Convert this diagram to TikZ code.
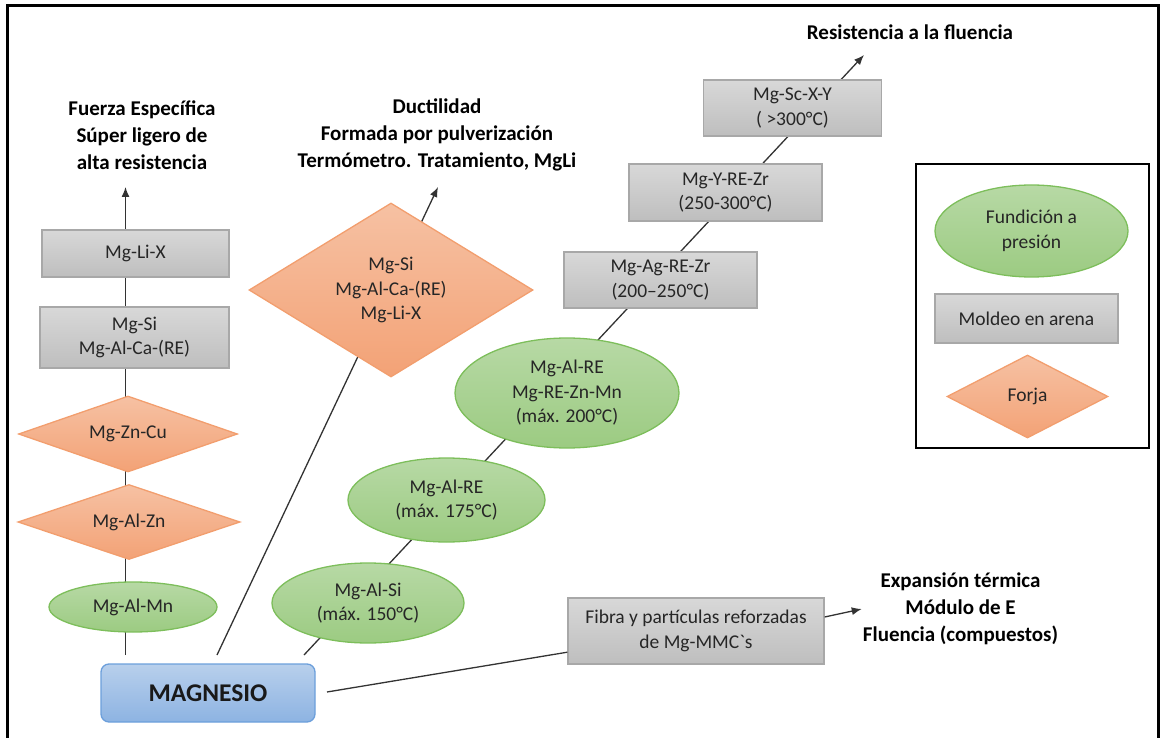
\documentclass[tikz,border=0pt]{standalone}
\usepackage{fontspec}
\setmainfont{Carlito}
\usetikzlibrary{shapes.geometric,arrows.meta}

\definecolor{grisA}{HTML}{D8D8D8}
\definecolor{grisB}{HTML}{BEBEBE}
\definecolor{grisBorde}{HTML}{A8A8A8}
\definecolor{naranjaA}{HTML}{F6C1A3}
\definecolor{naranjaB}{HTML}{F3A276}
\definecolor{naranjaBorde}{HTML}{F29E6E}
\definecolor{verdeA}{HTML}{B7D9A5}
\definecolor{verdeB}{HTML}{9CCB82}
\definecolor{verdeBorde}{HTML}{7DBE5B}
\definecolor{azulA}{HTML}{B8D0EC}
\definecolor{azulB}{HTML}{8DB3E2}
\definecolor{azulBorde}{HTML}{6C9FDB}

\newcommand{\cuerpo}{\fontsize{19.5}{24.5}\selectfont}
\newcommand{\cabeza}{\fontsize{21}{27}\selectfont\bfseries}

\begin{document}
\begin{tikzpicture}[x=1pt,y=-1pt,>={Latex[length=10pt,width=8pt]},
  caja/.style={draw=grisBorde,line width=1.3,top color=grisA,bottom color=grisB,inner sep=0,align=center,font=\cuerpo,text=black!85},
  forja/.style={diamond,aspect=2.9,draw=naranjaBorde,line width=1.3,top color=naranjaA,bottom color=naranjaB,inner sep=0,align=center,font=\cuerpo,text=black!85},
  fundicion/.style={ellipse,draw=verdeBorde,line width=1.3,top color=verdeA,bottom color=verdeB,inner sep=0,align=center,font=\cuerpo,text=black!85},
  titulo/.style={align=center,font=\cabeza,inner sep=1},
  linea/.style={line width=1.3,black!80}]
\useasboundingbox (0,0) rectangle (1163,738);
% Marco
\draw[line width=3] (7.5,740) -- (7.5,5.5) -- (1158.5,5.5) -- (1158.5,740);
% Puntos de salida y llegada
\coordinate (m1) at (125.5,655);
\coordinate (m2) at (217,655);
\coordinate (m3) at (304,655);
\coordinate (m4) at (327,692);
\coordinate (fe) at (125.5,187);
\coordinate (duc) at (438,187);
\coordinate (rf) at (864,55);
% Lineas de fondo
\draw[linea,->] (m1) -- (fe);
\draw[linea,->] (m2) -- (duc);
\draw[linea,->] (m3) -- (rf);
% Titulos
\node[titulo] (fuerza) at (142,135) {Fuerza Específica\\Súper ligero de\\alta resistencia};
\node[titulo] (ductil) at (437,135) {Ductilidad\\Formada por pulverización\\Termómetro. Tratamiento, MgLi};
\node[titulo] (resist) at (910,32) {Resistencia a la fluencia};
\node[titulo] (expan) at (960.5,609) {Expansión térmica\\Módulo de E\\Fluencia (compuestos)};
% Columna izquierda
\node[caja,minimum width=187,minimum height=47] (lix) at (135.5,253.5) {Mg-Li-X};
\node[caja,minimum width=189,minimum height=61] (sica) at (134.5,337.5) {Mg-Si\\Mg-Al-Ca-(RE)};
\node[forja,minimum width=219,minimum height=76] (zncu) at (128,434) {Mg-Zn-Cu};
\node[forja,minimum width=222,minimum height=75] (alzn) at (129,522) {Mg-Al-Zn};
\node[fundicion,minimum width=168,minimum height=50] (almn) at (133,607) {Mg-Al-Mn};
% Base
\node[draw=azulBorde,line width=1.3,rounded corners=8,top color=azulA,bottom color=azulB,minimum width=214,minimum height=58,font=\fontsize{25.5}{29}\selectfont\bfseries,text=black!90] (mag) at (208,693) {MAGNESIO};
% Rombo central
\node[forja,aspect=1.63,minimum width=284,minimum height=174] (sili) at (391,290) {Mg-Si\\Mg-Al-Ca-(RE)\\Mg-Li-X};
% Cadena diagonal
\node[fundicion,minimum width=192,minimum height=80] (alsi) at (368,603) {Mg-Al-Si\\(máx. 150°C)};
\node[fundicion,minimum width=197,minimum height=84] (alre) at (446.5,500) {Mg-Al-RE\\(máx. 175°C)};
\node[fundicion,minimum width=224,minimum height=110] (rezn) at (567,393) {Mg-Al-RE\\Mg-RE-Zn-Mn\\(máx. 200°C)};
\node[caja,minimum width=193,minimum height=56] (agre) at (660.5,280) {Mg-Ag-RE-Zr\\(200–250°C)};
\node[caja,minimum width=193,minimum height=57] (yre) at (725.5,192.5) {Mg-Y-RE-Zr\\(250-300°C)};
\node[caja,minimum width=178,minimum height=56] (scxy) at (792.5,108) {Mg-Sc-X-Y\\( >300°C)};
% Compuestos
\node[caja,minimum width=256,minimum height=66] (fib) at (696,631) {Fibra y partículas reforzadas\\de Mg-MMC\textasciigrave s};
\draw[linea] (m4) -- (fib);
\draw[linea,->] ([yshift=14]fib.east) -- (expan.west);
% Leyenda
\node[draw,line width=1.8,minimum width=233,minimum height=284] (ley) at (1032.5,306) {};
\node[fundicion,minimum width=193,minimum height=92] (leyfun) at (1031.5,231) {Fundición a\\presión};
\node[caja,minimum width=183,minimum height=49] (leymol) at (1026.5,318.5) {Moldeo en arena};
\node[forja,aspect=1.94,minimum width=161,minimum height=83] (leyfor) at (1027.5,396.5) {Forja};
\end{tikzpicture}
\end{document}
